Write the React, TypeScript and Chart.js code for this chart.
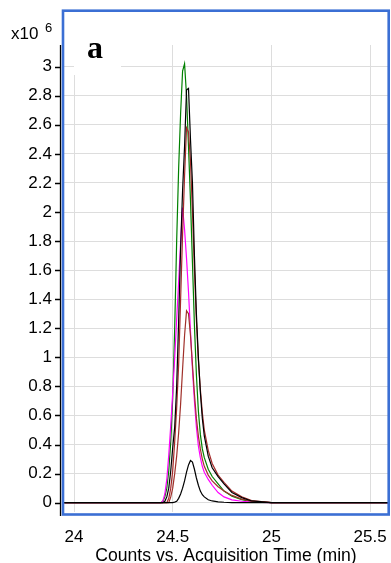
import { useEffect, useRef } from "react";
import { Chart, registerables } from "chart.js";

Chart.register(...registerables);

// Acquisition time grid (min)
const times = [
  23.95, 24.3, 24.44, 24.45, 24.46, 24.47, 24.48, 24.49, 24.5, 24.51, 24.52, 24.53, 24.54, 24.55, 24.56, 24.57, 24.58,
  24.59, 24.6, 24.61, 24.62, 24.63, 24.64, 24.65, 24.66, 24.68, 24.7, 24.73, 24.76, 24.8, 24.85, 24.9, 25.0, 25.6,
];

// Counts (x10^6) per trace
const greenCounts = [
  0, 0, 0, 0.01, 0.04, 0.1, 0.22, 0.42, 0.72, 1.2, 1.8, 2.3, 2.68, 2.97, 3.02, 2.8, 2.45, 2.08, 1.65, 1.22, 0.88, 0.63,
  0.47, 0.37, 0.31, 0.23, 0.18, 0.13, 0.08, 0.045, 0.02, 0.008, 0, 0,
];
const magentaCounts = [
  0, 0, 0, 0.01, 0.06, 0.16, 0.33, 0.53, 0.76, 1.0, 1.26, 1.52, 1.79, 2.03, 1.88, 1.68, 1.45, 1.18, 0.92, 0.7, 0.52,
  0.39, 0.31, 0.25, 0.21, 0.16, 0.12, 0.07, 0.04, 0.02, 0.01, 0.004, 0, 0,
];
const brownCounts = [
  0, 0, 0, 0, 0, 0, 0.03, 0.1, 0.22, 0.42, 0.65, 0.95, 1.4, 1.85, 2.25, 2.58, 2.55, 2.35, 2.0, 1.6, 1.25, 0.98, 0.78,
  0.62, 0.5, 0.36, 0.27, 0.19, 0.14, 0.08, 0.04, 0.015, 0, 0,
];
const redCounts = [
  0, 0, 0, 0, 0, 0, 0, 0.04, 0.1, 0.2, 0.32, 0.48, 0.68, 0.92, 1.15, 1.32, 1.3, 1.15, 0.95, 0.75, 0.58, 0.46, 0.37, 0.3,
  0.25, 0.19, 0.15, 0.11, 0.08, 0.05, 0.025, 0.01, 0, 0,
];
const blackCounts = [
  0, 0, 0, 0, 0.01, 0.04, 0.1, 0.22, 0.38, 0.52, 0.8, 1.25, 1.75, 2.15, 2.45, 2.84, 2.85, 2.5, 2.2, 1.7, 1.3, 1.0, 0.76,
  0.58, 0.46, 0.32, 0.24, 0.18, 0.13, 0.07, 0.035, 0.012, 0, 0,
];
const smallBlackCounts = [
  0, 0, 0, 0, 0, 0, 0, 0, 0, 0.004, 0.01, 0.03, 0.06, 0.1, 0.15, 0.21, 0.26, 0.29, 0.28, 0.23, 0.17, 0.12, 0.08, 0.055,
  0.04, 0.02, 0.012, 0.006, 0.003, 0.001, 0, 0, 0, 0,
];

// first entry is drawn on top
const seriesNames = ["black small", "black", "red", "brown", "magenta", "green"];
const seriesValues = [smallBlackCounts, blackCounts, redCounts, brownCounts, magentaCounts, greenCounts];
const seriesColors = ["#000000", "#000000", "#a0302a", "#a52a2a", "#ff00ff", "#008000"];

const xTickValues = [24, 24.5, 25, 25.5];
const yTickValues = [0, 0.2, 0.4, 0.6, 0.8, 1, 1.2, 1.4, 1.6, 1.8, 2, 2.2, 2.4, 2.6, 2.8, 3];

const exponentBase = "x10";
const exponentPower = "6";
const panelLabel = "a";
const xAxisTitle = "Counts vs. Acquisition Time (min)";

const SANS = "'Liberation Sans', Arial, sans-serif";

export default function App() {
  const ref = useRef<HTMLCanvasElement>(null);

  useEffect(() => {
    document.body.style.margin = "0";
    const decor = {
      id: "decor",
      afterDraw(chart: any) {
        const ctx = chart.ctx as CanvasRenderingContext2D;
        const yScale = chart.scales.y;
        ctx.save();
        // white label box
        ctx.fillStyle = "#ffffff";
        ctx.fillRect(74, 44, 47, 31);
        ctx.fillStyle = "#000";
        ctx.font = "bold 32px 'Liberation Serif', 'Times New Roman', serif";
        ctx.textAlign = "left";
        ctx.textBaseline = "alphabetic";
        ctx.fillText(panelLabel, 87, 58);
        // blue frame
        ctx.strokeStyle = "#3b6fd4";
        ctx.lineWidth = 2.6;
        ctx.strokeRect(63, 10.7, 325.7, 503.8);
        // y axis line and ticks
        ctx.strokeStyle = "#000";
        ctx.lineWidth = 1.3;
        ctx.beginPath();
        ctx.moveTo(60.5, 45);
        ctx.lineTo(60.5, 516);
        for (const v of yTickValues) {
          const py = Math.round(yScale.getPixelForValue(v)) + 0.5;
          ctx.moveTo(55, py);
          ctx.lineTo(60.5, py);
        }
        ctx.stroke();
        // exponent
        ctx.fillStyle = "#000";
        ctx.font = `17px ${SANS}`;
        ctx.fillText(exponentBase, 11, 39);
        ctx.font = `13px ${SANS}`;
        ctx.fillText(exponentPower, 45, 32);
        ctx.restore();
      },
    };

    const chart = new Chart(ref.current!, {
      type: "line",
      data: {
        datasets: seriesValues.map((vals, k) => ({
          label: seriesNames[k],
          data: times.map((t, i) => ({ x: t, y: vals[i] })),
          borderColor: seriesColors[k],
          borderWidth: 1.2,
          pointRadius: 0,
          tension: 0,
          fill: false,
        })),
      },
      options: {
        animation: false,
        responsive: false,
        devicePixelRatio: 1,
        layout: { padding: { top: 45, right: 3, left: 0, bottom: 0 } },
        plugins: { legend: { display: false }, tooltip: { enabled: false } },
        scales: {
          x: {
            type: "linear",
            min: 23.949,
            max: 25.591,
            afterBuildTicks: (s: any) => {
              s.ticks = xTickValues.map((v) => ({ value: v }));
            },
            afterFit: (s: any) => {
              s.height = 51;
              s.paddingLeft = 0;
              s.paddingRight = 0;
            },
            grid: { color: "#dddddd", lineWidth: 1, drawTicks: false },
            border: { display: false },
            ticks: {
              font: { family: SANS, size: 17 },
              color: "#000",
              padding: 15,
              maxRotation: 0,
              autoSkip: false,
              callback: (v: any) => String(v),
            },
            title: {
              display: true,
              text: xAxisTitle,
              font: { family: SANS, size: 17.6, lineHeight: 1 },
              color: "#000",
              padding: { top: 0, bottom: -2 },
            },
          },
          y: {
            type: "linear",
            min: -0.064,
            max: 3.149,
            afterBuildTicks: (s: any) => {
              s.ticks = yTickValues.map((v) => ({ value: v }));
            },
            afterFit: (s: any) => {
              s.width = 64;
              s.paddingTop = 0;
              s.paddingBottom = 0;
            },
            grid: { color: "#dddddd", lineWidth: 1, drawTicks: false },
            border: { display: false },
            ticks: {
              font: { family: SANS, size: 17 },
              color: "#000",
              padding: 12,
              autoSkip: false,
              callback: (v: any) => String(Number(Number(v).toFixed(1))),
            },
          },
        },
      },
      plugins: [decor],
    });
    return () => chart.destroy();
  }, []);

  return <canvas ref={ref} width={391} height={563} style={{ display: "block" }} />;
}
